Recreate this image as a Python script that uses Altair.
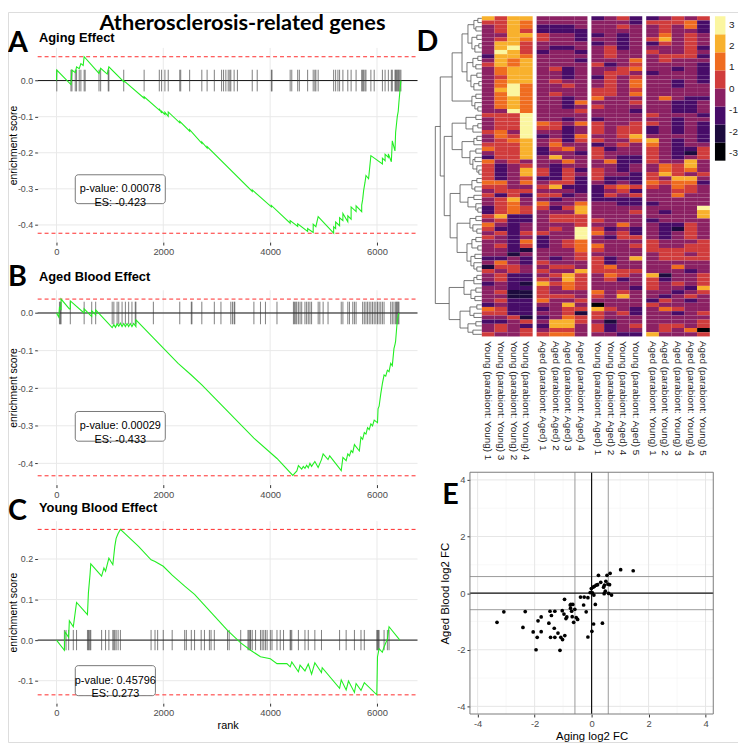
import altair as alt
import pandas as pd

W, H = 738, 738
FONT = "Liberation Sans"
HEAD = "Lato"
MINUS_FIX = "replace(datum.label, '\u2212', '-')"


def pg(v):
    return v - 8.0


# ---------------- GSEA data ----------------
X_TICKS = [0, 2000, 4000, 6000]
X_DOM = [-352, 6759]

A_rank = [0, 6, 271, 290, 352, 376, 426, 457, 500, 518, 796, 827, 950, 981, 1259, 1259, 1641, 1641,
          1925, 1925, 1968, 1968, 2030, 2030, 2092, 2092, 2308, 2308, 2493, 2493, 2721, 2721, 2820, 2820,
          3665, 3665, 4023, 4023, 4375, 4375, 4516, 4516, 4702, 4702, 4806, 4806, 4856, 4899, 5189, 5189,
          5226, 5226, 5300, 5300, 5362, 5362, 5454, 5454, 5516, 5516, 5609, 5609, 5714, 5714, 5732, 5750,
          5775, 5794, 5843, 5886, 6102, 6102, 6152, 6152, 6213, 6213, 6269, 6287, 6337, 6349, 6368, 6380,
          6398, 6411, 6429, 6448]
A_es = [0, 0.029, -0.011, 0.029, 0.022, 0.038, 0.033, 0.047, 0.042, 0.066, 0.020, 0.034, 0.018, 0.038,
        -0.003, 0.0, -0.049, -0.045, -0.082, -0.078, -0.090, -0.085, -0.094, -0.088, -0.099, -0.087,
        -0.117, -0.113, -0.140, -0.136, -0.174, -0.170, -0.187, -0.183, -0.307, -0.303, -0.350, -0.346,
        -0.395, -0.388, -0.404, -0.397, -0.418, -0.410, -0.421, -0.398, -0.405, -0.377, -0.423, -0.405,
        -0.410, -0.392, -0.402, -0.380, -0.388, -0.368, -0.391, -0.375, -0.384, -0.350, -0.363, -0.347,
        -0.363, -0.345, -0.330, -0.305, -0.283, -0.263, -0.272, -0.208, -0.231, -0.215, -0.222, -0.204,
        -0.213, -0.203, -0.225, -0.167, -0.195, -0.144, -0.117, -0.100, -0.085, -0.060, -0.030, 0.0]
A_hits = [6, 271, 290, 352, 376, 426, 457, 518, 537, 796, 827, 969, 981, 1259, 1641, 1925, 1968, 2030,
          2092, 2308, 2326, 2493, 2721, 2820, 2955, 3091, 3128, 3171, 3215, 3245, 3264, 3326, 3387, 3665,
          3758, 4023, 4035, 4375, 4405, 4516, 4547, 4702, 4806, 4837, 4856, 4899, 5189, 5226, 5269, 5300,
          5362, 5454, 5516, 5609, 5714, 5732, 5750, 5775, 5794, 5886, 5948, 6102, 6152, 6213, 6269, 6287,
          6337, 6349, 6368, 6380, 6398, 6411, 6429, 6448]

B_rank = [0, 43, 56, 86, 86, 241, 259, 259, 500, 518, 518, 642, 660, 660, 722, 734, 734, 1043, 1074,
          1105, 1135, 1166, 1197, 1228, 1259, 1290, 1321, 1351, 1382, 1413, 1444, 1487, 1487, 1814, 2277,
          2523, 2721, 3696, 4128, 4424, 4500, 4529, 4591, 4621, 4652, 4683, 4714, 4745, 4776, 4837, 4899,
          4961, 4992, 5084, 5115, 5331, 5362, 5423, 5454, 5485, 5516, 5547, 5578, 5670, 5700, 5732, 5763,
          5794, 5824, 5855, 5886, 5917, 5948, 6010, 6020, 6040, 6071, 6102, 6133, 6164, 6195, 6226, 6257,
          6287, 6318, 6340, 6349, 6380, 6411]
B_es = [0, -0.011, 0.015, 0.010, 0.037, 0.011, 0.011, 0.032, 0.002, 0.0, 0.011, -0.007, -0.009, 0.006,
        -0.003, -0.005, 0.008, -0.039, -0.031, -0.038, -0.029, -0.035, -0.027, -0.036, -0.028, -0.036,
        -0.028, -0.036, -0.028, -0.036, -0.028, -0.036, -0.018, -0.066, -0.134, -0.165, -0.191, -0.333,
        -0.387, -0.432, -0.420, -0.406, -0.415, -0.408, -0.413, -0.405, -0.412, -0.400, -0.408, -0.395,
        -0.411, -0.390, -0.375, -0.390, -0.380, -0.419, -0.384, -0.393, -0.375, -0.380, -0.366, -0.371,
        -0.350, -0.367, -0.330, -0.336, -0.318, -0.322, -0.305, -0.310, -0.295, -0.300, -0.285, -0.292,
        -0.255, -0.248, -0.215, -0.187, -0.165, -0.168, -0.152, -0.156, -0.134, -0.140, -0.095, -0.082,
        -0.075, -0.020, 0.0]
B_hits = [56, 74, 86, 259, 518, 660, 734, 1043, 1074, 1135, 1166, 1228, 1290, 1351, 1413, 1475, 1487,
          1814, 2308, 2524, 2536, 2721, 2955, 3079, 3264, 3295, 3326, 3338, 3696, 3819, 3912, 4128, 4436,
          4455, 4479, 4498, 4529, 4560, 4591, 4652, 4683, 4714, 4745, 4776, 4899, 4930, 4992, 5084, 5331,
          5362, 5454, 5485, 5547, 5578, 5609, 5732, 5763, 5794, 5824, 5855, 5886, 5917, 5948, 5979, 6010,
          6040, 6071, 6102, 6133, 6257, 6287, 6318, 6349, 6368, 6380, 6398, 6411]

C_rank = [0, 148, 160, 228, 241, 315, 376, 580, 598, 629, 642, 845, 888, 919, 981, 1055, 1074, 1092,
          1117, 1154, 1197, 1536, 1771, 1845, 1999, 2166, 2400, 2585, 3202, 3449, 3634, 3819, 4004, 4128,
          4313, 4375, 4405, 4529, 4560, 4652, 4714, 4776, 4837, 4961, 4975, 5300, 5331, 5423, 5467, 5578,
          5609, 5701, 5763, 5997, 6010, 6040, 6100, 6133, 6195, 6226, 6429]
C_es = [0, -0.025, 0.020, 0.007, 0.048, 0.033, 0.093, 0.063, 0.117, 0.163, 0.188, 0.158, 0.178, 0.170,
        0.202, 0.186, 0.209, 0.231, 0.251, 0.263, 0.273, 0.231, 0.198, 0.194, 0.182, 0.160, 0.133, 0.113,
        0.024, -0.007, -0.025, -0.041, -0.046, -0.058, -0.058, -0.066, -0.054, -0.078, -0.062, -0.076,
        -0.059, -0.084, -0.056, -0.080, -0.068, -0.119, -0.098, -0.123, -0.101, -0.129, -0.107, -0.124,
        -0.105, -0.135, -0.041, -0.021, -0.030, -0.017, 0.003, 0.033, 0.0]
C_hits = [148, 179, 228, 315, 376, 580, 598, 611, 629, 642, 845, 919, 981, 1055, 1074, 1092, 1117, 1154,
          1197, 1771, 1845, 1894, 1999, 2166, 2400, 2431, 2524, 2585, 2709, 2770, 2863, 2894, 2955, 3202,
          3233, 3449, 3585, 3603, 3622, 3634, 3665, 3727, 3819, 3850, 3881, 3912, 3943, 4004, 4035, 4128,
          4189, 4251, 4375, 4387, 4405, 4529, 4652, 4714, 4837, 4961, 5300, 5423, 5578, 5701, 5763, 5997,
          6010, 6028, 6040, 6133, 6195, 6226]

ES_LIMITS = {"A": (0.066, -0.423), "B": (0.037, -0.433), "C": (0.273, -0.135)}
LABELS = {"A": "p-value: 0.00078\nES: -0.423",
          "B": "p-value: 0.00029\nES: -0.433",
          "C": "p-value: 0.45796\nES: 0.273"}
TITLES = {"A": "Aging Effect", "B": "Aged Blood Effect", "C": "Young Blood Effect"}

# ---------------- heatmap data ----------------
COL_BLOCKS = [
    ["Young (parabiont: Young) 1", "Young (parabiont: Young) 3", "Young (parabiont: Young) 2",
     "Young (parabiont: Young) 4"],
    ["Aged (parabiont: Aged) 1", "Aged (parabiont: Aged) 2", "Aged (parabiont: Aged) 3",
     "Aged (parabiont: Aged) 4"],
    ["Young (parabiont: Aged) 1", "Young (parabiont: Aged) 2", "Young (parabiont: Aged) 4",
     "Young (parabiont: Aged) 5"],
    ["Aged (parabiont: Young) 1", "Aged (parabiont: Young) 2", "Aged (parabiont: Young) 3",
     "Aged (parabiont: Young) 4", "Aged (parabiont: Young) 5"],
]
# colour bin per cell (0 = -3 ... 7 = +3), one string per gene row, 17 samples
HEAT_ROWS = [
    "64663333234223434", "44653333333244452", "34652223334334352", "34642222333334332",
    "33664332232335343", "34654332332346343", "36643333232324343", "36743223342333342",
    "37642332343343343", "26653333343334442", "36563332333534333", "46563333423433332",
    "35663423334533232", "35663323344323332", "34663323243433332", "35663433343533232",
    "35753343343533233", "36753333443433333", "35753433443533333", "35653323533335322",
    "35653325333433223", "35653323433333223", "33753334333233223", "44473333333343332",
    "34473323233333233", "34475435433443232", "34474423434423232", "45373323434423232",
    "35472325334633332", "34563424433563232", "44463533234353233", "54462453423343224",
    "34462332433343214", "24463633432243234", "53433353352243363", "42343233332335463",
    "42364242432335453", "42364243433246434", "42342242422243663", "55353442323254552",
    "44334622245443543", "34443332234233443", "42424423243433533", "34633233222233333",
    "34535335332223333", "24544246333333337", "24543336333432336", "46223444333333336",
    "34223444433323333", "53233334335332243", "42233437423232143", "34244337534232343",
    "43232337324432343", "33252345333343334", "34242345533443344", "33213335433344444",
    "33133334333334434", "22323234423634444", "35324333423333333", "14433443453333533",
    "43434336444433323", "34223464354361334", "34224364342342334", "23216454333343434",
    "33224354333243326", "34114333534333234", "33114443436332343", "34225334333324323",
    "23223363033343333", "54222344643235433", "44223341434233234", "33412354433333333",
    "22343664313333334", "34322663423434434", "34343443423334350", "43344553332263334",
]
BIN_COLORS = ["#000004", "#1d0b3e", "#470c68", "#8b2163", "#d03c3c", "#ef6c20", "#f8b12d", "#fbf6a0"]
LEGEND_LABELS = ["3", "2", "1", "0", "-1", "-2", "-3"]
LEGEND_VALUES = [3, 2, 1, 0, -1, -2, -3]

# dendrogram: (height, left, right), leaves are row indices
T1 = (30, (20, (14, (8, (4, 0, 1), (6, 2, 3)), (10, (5, 4, 5), (7, (3, 6, 7), 8))),
           (15, (9, (4, 9, 10), (6, 11, 12)), (11, (5, 13, 14), (8, (3, 15, 16), 17)))),
      (10, (6, 18, 19), (7, 20, (4, 21, 22))))
T2 = (30, (16, (6, 23, 24), (9, (4, 25, 26), 27)),
      (20, (8, (5, 28, 29), 30), (12, (6, 31, 32), (9, (7, 33, 34), (5, 35, (3, 36, 37))))))
T3 = (32, (22, (10, (5, 38, 39), (7, 40, 41)), (14, (8, 42, 43), (6, 44, (4, 45, 46)))),
      (25, (12, (6, 47, 48), (9, 49, (5, 50, 51))),
       (15, (10, (6, 52, 53), (4, 54, 55)), (11, (7, 56, 57), (8, 58, (5, 59, 60))))))
T4 = (33, (18, (8, (5, 61, 62), 63), (11, (6, 64, 65), (7, 66, 67))),
      (22, (12, (5, 68, 69), (8, 70, 71)), (14, (6, 72, 73), (9, 74, 75))))
TREE = (47, (42, T1, (38, T2, T3)), T4)

# ---------------- scatter data ----------------
E_x = [-3.32, -3.08, -2.41, -2.33, -2.05, -1.95, -1.91, -1.88, -1.77, -1.77, -1.50, -1.46, -1.44, -1.41,
       -1.31, -1.29, -1.29, -1.18, -1.11, -1.08, -1.03, -1.02, -0.97, -0.95, -0.94, -0.90, -0.87, -0.75,
       -0.73, -0.74, -0.70, -0.68, -0.66, -0.63, -0.59, -0.54, -0.49, -0.39, -0.28, -0.26, -0.19, -0.13,
       -0.13, -0.05, -0.01, 0.01, 0.03, 0.05, 0.07, 0.08, 0.10, 0.13, 0.16, 0.21, 0.24, 0.32, 0.38, 0.42,
       0.44, 0.45, 0.48, 0.50, 0.54, 0.57, 0.60, 0.63, 0.65, 0.70, 1.02, 1.46]
E_y = [-1.03, -0.66, -1.21, -0.65, -1.37, -2.0, -1.56, -0.98, -0.84, -1.36, -1.06, -0.64, -1.56, -0.79,
       -1.24, -0.64, -1.56, -1.41, -2.02, -1.56, -0.62, -1.64, -0.74, -0.22, -1.50, -0.90, -0.84, -0.42,
       -0.40, -0.53, -0.64, -0.83, -0.40, -1.03, -0.57, -0.86, -0.93, -0.14, -0.42, -0.14, -0.66, -0.16,
       -1.55, 0.02, 0.16, -1.35, 0.01, 0.21, -1.09, -0.07, 0.24, -0.40, 0.28, 0.30, 0.63, 0.38, -1.06,
       0.21, -0.02, 0.28, 0.07, 0.42, 0.63, 0.32, -0.01, 0.30, 0.70, -0.07, 0.83, 0.79]
E_TICKS = [-4, -2, 0, 2, 4]
E_MINOR = [-3, -1, 1, 3]
E_CUT = [-0.585, 0.585]
E_DOM = [-4.27, 4.27]


# ---------------- builders ----------------
def text_layer(txt, x, y, size, weight="normal", font=FONT, align="left", color="black"):
    return alt.Chart(pd.DataFrame({"t": [txt]})).mark_text(
        align=align, baseline="alphabetic", fontSize=size, fontWeight=weight, font=font, color=color
    ).encode(text="t:N", x=alt.value(x), y=alt.value(y))


def gsea(key, c_rank, c_es, hits, rug_h, ydom, ybot, ytop, yticks, box, title_base, xtitle):
    es_max, es_min = ES_LIMITS[key]
    xs = alt.Scale(domain=X_DOM, range=[pg(38), pg(422)], nice=False, zero=False)
    ys = alt.Scale(domain=ydom, range=[pg(ybot), pg(ytop)], nice=False, zero=False)
    xax = dict(orient="bottom", offset=pg(ybot) - H, values=X_TICKS, format="d", grid=False,
               domain=False, tickSize=3, tickColor="#333333", labelColor="#4d4d4d", labelFont=FONT,
               labelFontSize=9.5, labelPadding=2, labelFlush=False, labelOverlap=False)
    if xtitle:
        xax.update(title=xtitle, titleFont=FONT, titleFontSize=11, titleFontWeight="normal",
                   titleColor="black", titlePadding=2)
    else:
        xax["title"] = None
    xaxis = alt.Axis(**xax)
    yaxis = alt.Axis(orient="left", offset=-pg(38), values=yticks, format=".1f", grid=False,
                     domain=False, tickSize=3, tickColor="#333333", labelColor="#4d4d4d",
                     labelFont=FONT, labelFontSize=9, labelPadding=2, labelExpr=MINUS_FIX,
                     labelOverlap=False, title="enrichment score", titleFont=FONT, titleFontSize=10.5,
                     titleFontWeight="normal", titleColor="black", titleX=6 - pg(38),
                     titleBaseline="middle")

    def X(f):
        return alt.X(f, scale=xs, axis=xaxis)

    def Y(f):
        return alt.Y(f, scale=ys, axis=yaxis)

    vgrid = alt.Chart(pd.DataFrame({"v": X_TICKS, "lo": ydom[0], "hi": ydom[1]})).mark_rule(
        color="#e9e9e9", strokeWidth=1).encode(x=X("v:Q"), y=Y("lo:Q"), y2="hi:Q")
    hgrid = alt.Chart(pd.DataFrame({"v": yticks, "lo": X_DOM[0], "hi": X_DOM[1]})).mark_rule(
        color="#e9e9e9", strokeWidth=1).encode(y=Y("v:Q"), x=X("lo:Q"), x2="hi:Q")
    zero = alt.Chart(pd.DataFrame({"v": [0.0], "lo": X_DOM[0], "hi": X_DOM[1]})).mark_rule(
        color="#111111", strokeWidth=1).encode(y=Y("v:Q"), x=X("lo:Q"), x2="hi:Q")
    rug = alt.Chart(pd.DataFrame({"r": hits, "lo": -rug_h, "hi": rug_h})).mark_rule(
        color="#333333", strokeWidth=0.7, opacity=0.9).encode(x=X("r:Q"), y=Y("lo:Q"), y2="hi:Q")
    red = alt.Chart(pd.DataFrame({"v": [es_max, es_min], "lo": X_DOM[0], "hi": X_DOM[1]})).mark_rule(
        color="#ff2a2a", strokeWidth=1, strokeDash=[4, 3]).encode(y=Y("v:Q"), x=X("lo:Q"), x2="hi:Q")
    line = alt.Chart(pd.DataFrame({"rank": c_rank, "es": c_es, "i": list(range(len(c_rank)))})).mark_line(
        color="#22ee22", strokeWidth=1.1).encode(x=X("rank:Q"), y=Y("es:Q"), order=alt.Order("i:Q"))
    bx = pd.DataFrame({"x0": [box[0]], "x1": [box[1]], "y0": [box[2]], "y1": [box[3]],
                       "xc": [(box[0] + box[1]) / 2], "yc": [(box[2] + box[3]) / 2],
                       "t": [LABELS[key]]})
    rect = alt.Chart(bx).mark_rect(fill="white", stroke="#555555", strokeWidth=0.8,
                                   cornerRadius=3).encode(x=X("x0:Q"), x2="x1:Q", y=Y("y0:Q"), y2="y1:Q")
    lab = alt.Chart(bx).mark_text(lineBreak="\n", align="center", baseline="middle", fontSize=11,
                                  font=FONT, color="black", lineHeight=14).encode(
        x=X("xc:Q"), y=Y("yc:Q"), text="t:N")
    ttl = text_layer(TITLES[key], pg(39.3), pg(title_base), 13, weight="bold")
    return alt.layer(vgrid, hgrid, zero, rug, red, line, rect, lab, ttl)


panel_a = gsea("A", A_rank, A_es, A_hits, 0.03, [-0.4475, 0.0905], 240.6, 44.3,
               [0.0, -0.1, -0.2, -0.3, -0.4], [352, 2037, -0.341, -0.261], 38, None)
panel_b = gsea("B", B_rank, B_es, B_hits, 0.03, [-0.4565, 0.0605], 485.8, 289.3,
               [0.0, -0.1, -0.2, -0.3, -0.4], [352, 2037, -0.341, -0.262], 280, None)
panel_c = gsea("C", C_rank, C_es, C_hits, 0.025, [-0.1554, 0.2934], 706.7, 522.7,
               [0.2, 0.1, 0.0, -0.1], [352, 1852, -0.137, -0.063], 513.5, "rank")

# ---------------- heatmap ----------------
N_ROWS = len(HEAT_ROWS)
row_scale = alt.Scale(domain=[0, N_ROWS], range=[pg(12.3), pg(336)], nice=False, zero=False)
color_scale = alt.Scale(domain=list(range(8)), range=BIN_COLORS)
BLOCK_PX = [(487, 538.4), (542.4, 593.8), (597.8, 649.2), (653.2, 717.5)]

heat_layers = []
k = 0
for b, cols in enumerate(COL_BLOCKS):
    recs = []
    for c in cols:
        for r, s in enumerate(HEAT_ROWS):
            recs.append({"col": c, "r0": r, "r1": r + 1, "code": int(s[k])})
        k += 1
    df = pd.DataFrame(recs)
    x0, x1 = BLOCK_PX[b]
    heat_layers.append(
        alt.Chart(df).mark_rect(strokeWidth=0).encode(
            x=alt.X("col:N", sort=cols,
                    scale=alt.Scale(domain=cols, range=[pg(x0), pg(x1)], paddingInner=0, paddingOuter=0),
                    axis=alt.Axis(orient="bottom", offset=pg(336) - H, labelAngle=90, ticks=False,
                                  domain=False, grid=False, labelPadding=4, labelFont=FONT,
                                  labelFontSize=10, labelColor="#1a1a1a", labelLimit=0, title=None)),
            y=alt.Y("r0:Q", scale=row_scale, axis=None), y2="r1:Q",
            color=alt.Color("code:O", scale=color_scale, legend=None))
    )

# dendrogram segments from the tree
segs = []


def walk(node):
    if isinstance(node, int):
        return node + 0.5, 0
    h, left, right = node
    yl, hl = walk(left)
    yr, hr = walk(right)
    segs.append({"x": hl, "x2": h, "y": yl, "y2": yl})
    segs.append({"x": hr, "x2": h, "y": yr, "y2": yr})
    segs.append({"x": h, "x2": h, "y": yl, "y2": yr})
    return (yl + yr) / 2, h


walk(TREE)
dendro = alt.Chart(pd.DataFrame(segs)).mark_rule(color="#555555", strokeWidth=0.8).encode(
    x=alt.X("x:Q", scale=alt.Scale(domain=[0, 47], range=[pg(487), pg(440)], nice=False, zero=False),
            axis=None), x2="x2:Q",
    y=alt.Y("y:Q", scale=row_scale, axis=None), y2="y2:Q")

# colour key
key_df = pd.DataFrame({"code": list(range(8)), "lo": list(range(8)), "hi": [i + 1 for i in range(8)]})
key_rect = alt.Chart(key_df).mark_rect(strokeWidth=0).encode(
    x=alt.value(pg(722.7)), x2=alt.value(pg(733.3)),
    y=alt.Y("lo:Q", scale=alt.Scale(domain=[0, 8], range=[pg(158.3), pg(12.3)], nice=False, zero=False),
            axis=None), y2="hi:Q",
    color=alt.Color("code:O", scale=color_scale, legend=None))
key_text = alt.Chart(pd.DataFrame({"v": LEGEND_VALUES, "t": LEGEND_LABELS})).mark_text(
    align="left", baseline="middle", fontSize=10, font=FONT, color="#1a1a1a").encode(
    x=alt.value(pg(737)),
    y=alt.Y("v:Q", scale=alt.Scale(domain=[-3, 3], range=[pg(150.7), pg(20.7)], nice=False, zero=False),
            axis=None),
    text="t:N")
heatmap = alt.layer(*heat_layers, dendro, key_rect, key_text).resolve_scale(
    x="independent", y="independent", color="independent")

# ---------------- scatter ----------------
exs = alt.Scale(domain=E_DOM, range=[pg(475), pg(721)], nice=False, zero=False)
eys = alt.Scale(domain=E_DOM, range=[pg(717.7), pg(473.3)], nice=False, zero=False)
e_xax = alt.Axis(orient="bottom", offset=pg(717.7) - H, values=E_TICKS, format="d", grid=False,
                 domain=False, tickSize=3, tickColor="#333333", labelColor="#4d4d4d", labelFont=FONT,
                 labelFontSize=9.5, labelPadding=2, labelFlush=False, labelExpr=MINUS_FIX,
                 title="Aging log2 FC", titleFont=FONT, titleFontSize=11.5, titleFontWeight="normal",
                 titleColor="black", titlePadding=2)
e_yax = alt.Axis(orient="left", offset=-pg(475), values=E_TICKS, format="d", grid=False, domain=False,
                 tickSize=3, tickColor="#333333", labelColor="#4d4d4d", labelFont=FONT,
                 labelFontSize=9.5, labelPadding=2, labelExpr=MINUS_FIX,
                 title="Aged Blood log2 FC", titleFont=FONT, titleFontSize=11.5,
                 titleFontWeight="normal", titleColor="black", titlePadding=6)


def EX(f):
    return alt.X(f, scale=exs, axis=e_xax)


def EY(f):
    return alt.Y(f, scale=eys, axis=e_yax)


def vlines(vals, color, width):
    return alt.Chart(pd.DataFrame({"v": vals, "lo": E_DOM[0], "hi": E_DOM[1]})).mark_rule(
        color=color, strokeWidth=width).encode(x=EX("v:Q"), y=EY("lo:Q"), y2="hi:Q")


def hlines(vals, color, width):
    return alt.Chart(pd.DataFrame({"v": vals, "lo": E_DOM[0], "hi": E_DOM[1]})).mark_rule(
        color=color, strokeWidth=width).encode(y=EY("v:Q"), x=EX("lo:Q"), x2="hi:Q")


border = alt.Chart(pd.DataFrame({"lo": [E_DOM[0]], "hi": [E_DOM[1]]})).mark_rect(
    filled=False, stroke="#7a7a7a", strokeWidth=1).encode(
    x=EX("lo:Q"), x2="hi:Q", y=EY("lo:Q"), y2="hi:Q")
pts = alt.Chart(pd.DataFrame({"x": E_x, "y": E_y})).mark_circle(size=14, color="black", opacity=1).encode(
    x=EX("x:Q"), y=EY("y:Q"))

panel_e = alt.layer(
    vlines(E_MINOR, "#f3f3f3", 0.6), hlines(E_MINOR, "#f3f3f3", 0.6),
    vlines(E_TICKS, "#e6e6e6", 1), hlines(E_TICKS, "#e6e6e6", 1),
    vlines(E_CUT, "#9a9a9a", 1), hlines(E_CUT, "#9a9a9a", 1),
    vlines([0.0], "#111111", 1.2), hlines([0.0], "#111111", 1.2),
    border, pts)

# ---------------- headings ----------------
heads = [
    text_layer("Atherosclerosis-related genes", pg(245), pg(26), 22, weight="bold", font=HEAD,
               align="center"),
    text_layer("A", 0, pg(48), 29, weight="bold", font=HEAD),
    text_layer("B", 0, pg(285), 29, weight="bold", font=HEAD),
    text_layer("C", 0, pg(522), 29, weight="bold", font=HEAD),
    text_layer("D", pg(421), pg(47), 29, weight="bold", font=HEAD),
    text_layer("E", pg(447), pg(505), 29, weight="bold", font=HEAD),
]

chart = alt.layer(panel_a, panel_b, panel_c, heatmap, panel_e, *heads).resolve_scale(
    x="independent", y="independent", color="independent"
).properties(
    width=W, height=H, padding=0, autosize=alt.AutoSizeParams(type="none")
).configure_view(stroke=None).configure(background="white")

chart.save("out.html", embed_options={"renderer": "svg", "actions": False})
